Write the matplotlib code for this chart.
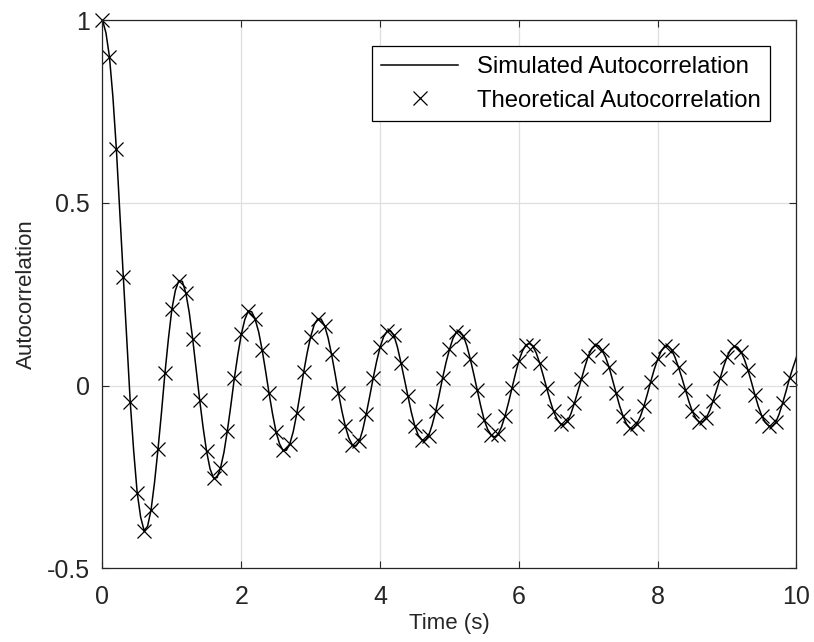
import matplotlib.pyplot as plt
import numpy as np

# theoretical values (markers), every 0.1 s from 0 to 9.9
t_theory = np.arange(100) * 0.1
r_theory = [1.0, 0.90, 0.647, 0.298, -0.045, -0.293, -0.397, -0.34, -0.174, 0.034,
            0.209, 0.287, 0.254, 0.127, -0.039, -0.18, -0.253, -0.226, -0.123, 0.02,
            0.14, 0.204, 0.181, 0.098, -0.021, -0.126, -0.177, -0.159, -0.076, 0.038,
            0.134, 0.182, 0.164, 0.086, -0.021, -0.112, -0.162, -0.153, -0.078, 0.020,
            0.105, 0.148, 0.137, 0.063, -0.028, -0.110, -0.148, -0.137, -0.071, 0.02,
            0.099, 0.146, 0.136, 0.072, -0.012, -0.094, -0.135, -0.133, -0.083, -0.007,
            0.068, 0.111, 0.108, 0.061, -0.007, -0.071, -0.105, -0.098, -0.048, 0.017,
            0.081, 0.111, 0.096, 0.05, -0.021, -0.083, -0.117, -0.105, -0.057, 0.011,
            0.072, 0.107, 0.098, 0.05, -0.012, -0.071, -0.1, -0.089, -0.041, 0.02,
            0.079, 0.107, 0.093, 0.043, -0.025, -0.083, -0.11, -0.101, -0.048, 0.02]

# simulated curve, every 0.05 s from 0 to 10
t_sim = np.arange(201) * 0.05
r_sim = [1.0, 0.965, 0.90, 0.79, 0.647, 0.475, 0.298, 0.125, -0.045, -0.18,
         -0.293, -0.36, -0.397, -0.385, -0.34, -0.265, -0.174, -0.074, 0.034, 0.128,
         0.209, 0.26, 0.287, 0.285, 0.254, 0.2, 0.127, 0.045, -0.039, -0.115,
         -0.18, -0.228, -0.253, -0.252, -0.226, -0.183, -0.123, -0.054, 0.02, 0.084,
         0.14, 0.18, 0.204, 0.202, 0.181, 0.147, 0.098, 0.04, -0.021, -0.077,
         -0.126, -0.159, -0.177, -0.177, -0.159, -0.125, -0.076, -0.02, 0.038, 0.09,
         0.134, 0.166, 0.182, 0.182, 0.164, 0.131, 0.086, 0.034, -0.021, -0.07,
         -0.112, -0.144, -0.162, -0.166, -0.153, -0.121, -0.078, -0.03, 0.020, 0.066,
         0.105, 0.133, 0.148, 0.15, 0.137, 0.105, 0.063, 0.018, -0.028, -0.073,
         -0.110, -0.136, -0.148, -0.15, -0.137, -0.108, -0.071, -0.027, 0.02, 0.063,
         0.099, 0.129, 0.146, 0.148, 0.136, 0.109, 0.072, 0.031, -0.012, -0.056,
         -0.094, -0.12, -0.135, -0.141, -0.133, -0.113, -0.083, -0.047, -0.007, 0.032,
         0.068, 0.094, 0.111, 0.115, 0.108, 0.089, 0.061, 0.028, -0.007, -0.041,
         -0.071, -0.092, -0.105, -0.107, -0.098, -0.077, -0.048, -0.016, 0.017, 0.051,
         0.081, 0.101, 0.111, 0.109, 0.096, 0.077, 0.05, 0.015, -0.021, -0.055,
         -0.083, -0.105, -0.117, -0.117, -0.105, -0.085, -0.057, -0.024, 0.011, 0.044,
         0.072, 0.094, 0.107, 0.108, 0.098, 0.077, 0.05, 0.02, -0.012, -0.044,
         -0.071, -0.09, -0.1, -0.099, -0.089, -0.068, -0.041, -0.011, 0.02, 0.052,
         0.079, 0.098, 0.107, 0.105, 0.093, 0.071, 0.043, 0.01, -0.025, -0.057,
         -0.083, -0.101, -0.11, -0.111, -0.101, -0.078, -0.048, -0.015, 0.02, 0.05,
         0.078]

x_ticks = [0, 2, 4, 6, 8, 10]
y_ticks = [-0.5, 0, 0.5, 1]
y_tick_labels = ['-0.5', '0', '0.5', '1']

plt.rcParams['font.family'] = ['Liberation Sans', 'DejaVu Sans']
plt.rcParams['axes.unicode_minus'] = False
dark = '#262626'

fig = plt.figure(figsize=(8.14, 6.42), dpi=100)
ax = fig.add_axes([0.1259, 0.1148, 0.8526, 0.854])

ax.plot(t_sim, r_sim, color='k', lw=1.1, label='Simulated Autocorrelation')
ax.plot(t_theory, r_theory, 'x', color='k', ms=10, mew=0.9,
        label='Theoretical Autocorrelation', clip_on=False)

ax.set_xlim(0, 10)
ax.set_ylim(-0.5, 1)
ax.set_xticks(x_ticks)
ax.set_yticks(y_ticks)
ax.set_yticklabels(y_tick_labels)

ax.grid(True, color='#dfdfdf', lw=0.9)
ax.set_axisbelow(True)
ax.tick_params(direction='in', length=5, width=0.8, colors=dark,
               top=True, right=True, labelsize=18)
ax.tick_params(axis='x', pad=12)
ax.tick_params(axis='y', pad=9)
for s in ax.spines.values():
    s.set_color(dark)
    s.set_linewidth(0.9)

ax.set_xlabel('Time (s)', fontsize=16, color=dark, labelpad=3)
ax.set_ylabel('Autocorrelation', fontsize=16, color=dark, labelpad=7)

leg = ax.legend(loc='upper right', fontsize=17.2, frameon=True, fancybox=False,
                edgecolor='k', framealpha=1, borderaxespad=1.1,
                handlelength=3.2, handletextpad=0.8, labelspacing=0.5,
                borderpad=0.4)
leg.get_frame().set_linewidth(0.9)
for txt in leg.get_texts():
    txt.set_color('k')

fig.savefig('out.png', dpi=100)
